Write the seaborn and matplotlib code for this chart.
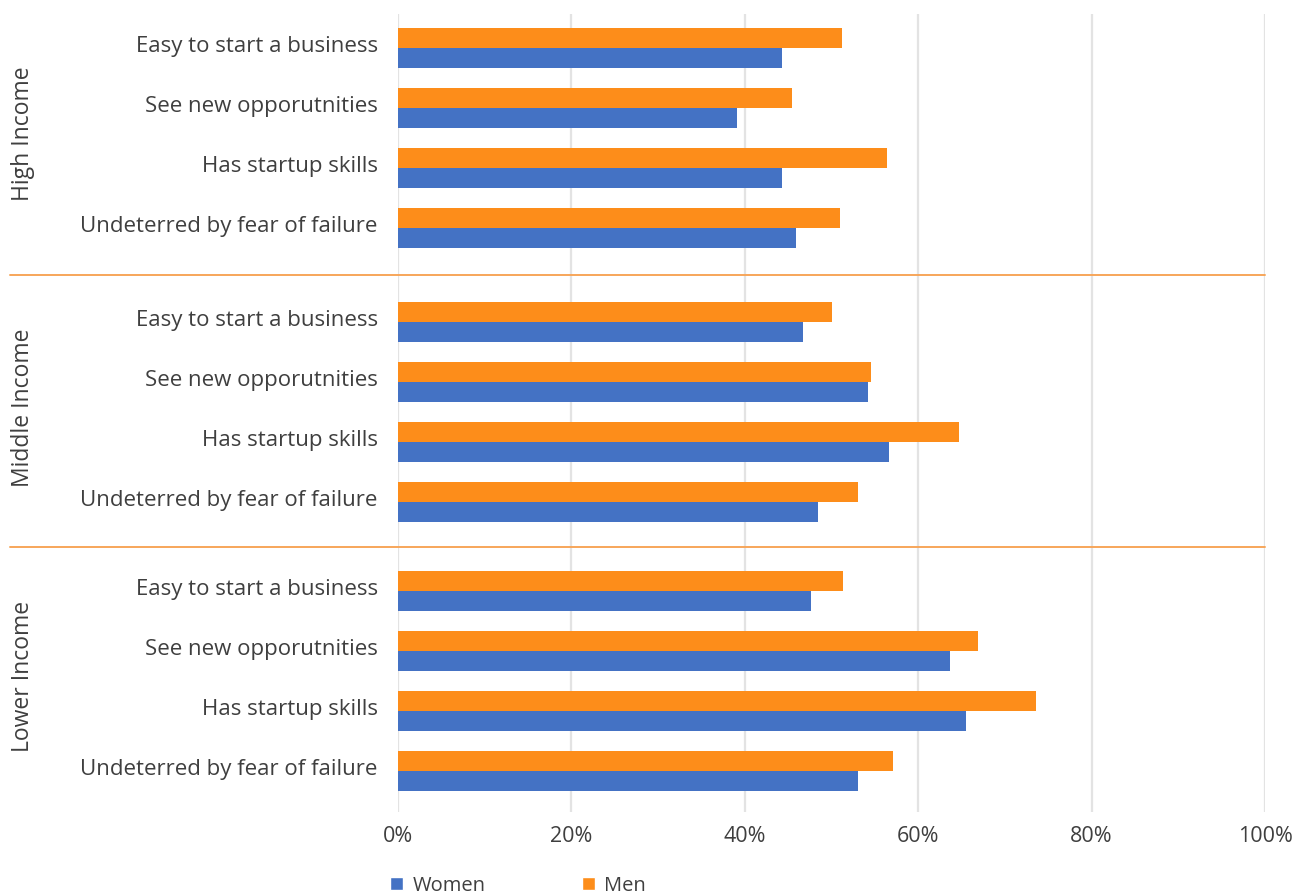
import matplotlib
matplotlib.use("Agg")
import matplotlib.pyplot as plt
import matplotlib.transforms as mtransforms
from matplotlib.patches import Patch
import numpy as np
import pandas as pd
import seaborn as sns

# Data
groups = ["High Income", "Middle Income", "Lower Income"]
categories = ["Easy to start a business", "See new opporutnities",
              "Has startup skills", "Undeterred by fear of failure"]
men = [51.2, 45.5, 56.4, 51.0,
       50.1, 54.6, 64.7, 53.1,
       51.3, 66.9, 73.6, 57.1]
women = [44.3, 39.1, 44.3, 45.9,
         46.7, 54.2, 56.6, 48.4,
         47.6, 63.7, 65.5, 53.1]
x_ticks = [0, 20, 40, 60, 80, 100]
x_tick_labels = ["0%", "20%", "40%", "60%", "80%", "100%"]

BLUE = "#4472C4"
ORANGE = "#FD8D1A"
TEXT = "#3F3F3F"
GROUP_START = [0, 4.567, 9.05]

sns.set_theme(style="white")
plt.rcParams["font.family"] = ["Open Sans", "DejaVu Sans"]

# Row positions: four categories per group, extra gap between groups
rows = []
for g, grp in enumerate(groups):
    for i, cat in enumerate(categories):
        pos = GROUP_START[g] + i
        rows.append({"pos": pos, "group": grp, "category": cat,
                     "Gender": "Men", "value": men[g * 4 + i]})
        rows.append({"pos": pos, "group": grp, "category": cat,
                     "Gender": "Women", "value": women[g * 4 + i]})
df = pd.DataFrame(rows)
positions = sorted(df["pos"].unique())

fig = plt.figure(figsize=(12.98, 8.94), dpi=100)
ax = fig.add_axes([398 / 1298, 1 - 812 / 894, 867 / 1298, (812 - 14) / 894])

sns.barplot(data=df, x="value", y="pos", hue="Gender", hue_order=["Men", "Women"],
            palette={"Men": ORANGE, "Women": BLUE}, orient="h", native_scale=True,
            width=0.667, saturation=1, dodge=True, errorbar=None, legend=False,
            linewidth=0, ax=ax)

ax.set_xlim(0, 100)
ax.set_ylim(12.733, -0.567)
ax.set_xticks(x_ticks)
ax.set_xticklabels(x_tick_labels, fontsize=15.5, color=TEXT)
ax.set_yticks(positions)
ax.set_yticklabels(categories * len(groups), fontsize=16, color=TEXT)
ax.tick_params(axis="x", length=0, pad=10)
ax.tick_params(axis="y", length=0, pad=14.5)
# category labels sit a little above the bar-pair centre
offset = mtransforms.ScaledTranslation(0, 4 / 100, fig.dpi_scale_trans)
for lbl in ax.get_yticklabels():
    lbl.set_transform(lbl.get_transform() + offset)
ax.set_xlabel("")
ax.set_ylabel("")
for s in ax.spines.values():
    s.set_visible(False)

ax.grid(axis="x", color="#E3E3E3", linewidth=1.6)
ax.grid(axis="y", visible=False)
ax.set_axisbelow(True)

# Group separators running under the category labels
for g in range(1, len(groups)):
    ysep = (GROUP_START[g - 1] + 3 + GROUP_START[g]) / 2
    ax.axhline(ysep, xmin=(10 - 398) / 867, xmax=1.0, color="#F7A65A",
               linewidth=1.4, clip_on=False)

# Rotated group labels
trans = mtransforms.blended_transform_factory(ax.transAxes, ax.transData)
for g, grp in enumerate(groups):
    yc = GROUP_START[g] + 1.5
    ax.text((23 - 398) / 867, yc - 0.07, grp, rotation=90, transform=trans,
            ha="center", va="center", fontsize=16.5, color=TEXT)

# Legend below the axis
handles = [Patch(facecolor=BLUE, label="Women"), Patch(facecolor=ORANGE, label="Men")]
fig.legend(handles=handles, loc="lower left", bbox_to_anchor=(372 / 1298, -0.022),
           ncol=2, frameon=False, fontsize=14.5, handlelength=0.65, handleheight=0.65,
           handletextpad=0.45, columnspacing=4.8, labelcolor=TEXT)

fig.savefig("out.png", dpi=100)
